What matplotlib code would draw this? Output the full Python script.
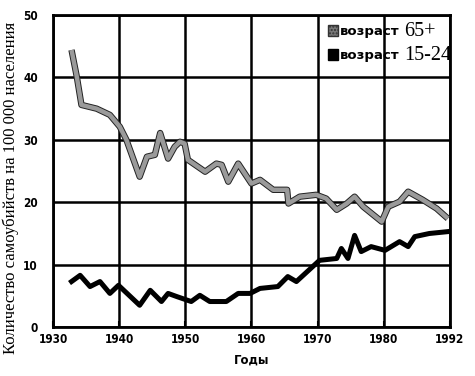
import matplotlib
matplotlib.use("Agg")
import matplotlib.pyplot as plt
import matplotlib.patheffects as pe
from matplotlib.patches import Patch

# data (x axis drawn evenly, last tick labelled 1992)
years_old = [1932.8, 1933.6, 1934.3, 1936.6, 1938.6, 1940.1, 1941.1, 1943.1, 1944.2,
             1945.4, 1946.2, 1947.4, 1948.4, 1949.2, 1949.9, 1950.4, 1953.0, 1954.7,
             1955.5, 1956.5, 1958.0, 1960.0, 1961.3, 1963.3, 1965.4, 1965.6, 1967.3,
             1969.8, 1971.3, 1972.9, 1974.4, 1975.6, 1976.9, 1979.7, 1980.7, 1982.4,
             1983.7, 1985.9, 1988.0, 1989.7]
rate_old = [44.4, 40.1, 35.6, 35.0, 34.0, 32.1, 30.0, 24.1, 27.3,
            27.6, 31.1, 27.0, 28.9, 29.7, 29.4, 26.8, 24.9, 26.2,
            26.0, 23.3, 26.2, 23.0, 23.6, 22.0, 22.0, 19.8, 20.9,
            21.2, 20.6, 18.8, 19.8, 20.9, 19.3, 16.9, 19.3, 20.1,
            21.7, 20.4, 19.0, 17.4]

years_young = [1932.8, 1934.1, 1935.6, 1937.1, 1938.6, 1939.9, 1943.1, 1944.7, 1946.4,
               1947.4, 1948.7, 1950.9, 1952.2, 1953.7, 1956.2, 1958.0, 1959.8, 1961.3,
               1964.0, 1965.5, 1966.8, 1970.3, 1972.9, 1973.6, 1974.6, 1975.6, 1976.6,
               1978.1, 1980.2, 1982.4, 1983.7, 1984.7, 1986.9, 1989.7]
rate_young = [7.3, 8.3, 6.5, 7.3, 5.4, 6.7, 3.5, 5.9, 4.1,
              5.4, 4.9, 4.1, 5.1, 4.1, 4.1, 5.4, 5.4, 6.2,
              6.5, 8.1, 7.3, 10.7, 11.0, 12.6, 11.0, 14.7, 12.1,
              12.9, 12.3, 13.7, 12.9, 14.5, 15.0, 15.3]

xticks = [1930, 1940, 1950, 1960, 1970, 1980, 1990]
xlabels = ["1930", "1940", "1950", "1960", "1970", "1980", "1992"]
yticks = [0, 10, 20, 30, 40, 50]
ages = ["65+", "15-24"]

fig = plt.figure(figsize=(4.75, 3.76), dpi=100)
ax = fig.add_axes([0.1116, 0.130, 0.8354, 0.830])

tick_font = dict(family="DejaVu Sans", weight="bold", stretch="condensed", size=8.5)

ax.plot(years_old, rate_old, color="#9a9a9a", lw=3.2, solid_capstyle="butt",
        path_effects=[pe.Stroke(linewidth=4.6, foreground="#222222"), pe.Normal()],
        zorder=3)
ax.plot(years_young, rate_young, color="black", lw=3.6, zorder=3)

ax.set_xlim(1930, 1990)
ax.set_ylim(0, 50)
ax.set_xticks(xticks)
ax.set_xticklabels(xlabels, fontdict=tick_font)
ax.set_yticks(yticks)
ax.set_yticklabels([str(v) for v in yticks], fontdict=tick_font)
ax.tick_params(axis="x", direction="in", length=4, width=1.5, pad=4)
ax.tick_params(axis="y", direction="out", length=0, width=1.5, pad=11)
ax.grid(True, color="black", lw=1.8)
for s in ax.spines.values():
    s.set_linewidth(2)

ax.set_xlabel("Годы", fontdict=dict(family="DejaVu Sans", weight="bold", size=8.5),
              labelpad=6)
ax.set_ylabel("Количество самоубийств на 100 000 населения",
              family="Liberation Serif", fontsize=12)
ax.yaxis.set_label_coords(0.04, 0.5, transform=fig.transFigure)

handles = [Patch(facecolor="#777777", edgecolor="#333333", hatch="....."),
           Patch(facecolor="black", edgecolor="black")]
leg = ax.legend(handles, ["возраст", "возраст"], loc="upper right",
                bbox_to_anchor=(0.874, 0.968), frameon=False,
                prop=dict(family="DejaVu Sans", weight="bold", size=9.5),
                handlelength=0.8, handleheight=0.9, handletextpad=0.15,
                labelspacing=0.85, borderpad=0, borderaxespad=0)

# the age numbers are set in a serif face right after the legend text
fig.canvas.draw()
inv = fig.transFigure.inverted()
for t, num in zip(leg.get_texts(), ages):
    bb = t.get_window_extent()
    x, y = inv.transform((bb.x1 + 4, (bb.y0 + bb.y1) / 2))
    fig.text(x, y, num, va="center", ha="left",
             family="Liberation Serif", fontsize=14.5)

fig.savefig("out.png", dpi=100)
